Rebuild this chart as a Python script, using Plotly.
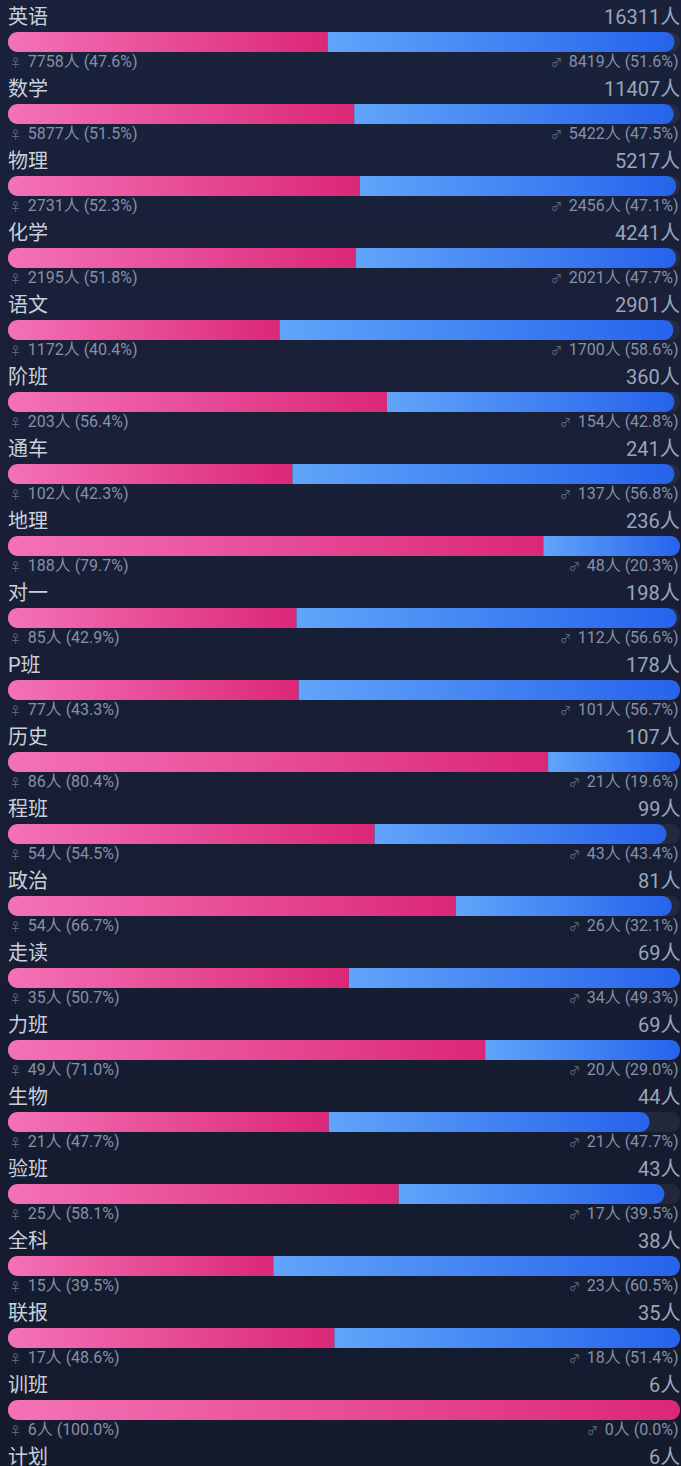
import math
import plotly.graph_objects as go

# ---------------- data ----------------
categories = ['英语', '数学', '物理', '化学', '语文', '阶班', '通车', '地理', '对一', 'P班',
              '历史', '程班', '政治', '走读', '力班', '生物', '验班', '全科', '联报', '训班', '计划']
totals = [16311, 11407, 5217, 4241, 2901, 360, 241, 236, 198, 178,
          107, 99, 81, 69, 69, 44, 43, 38, 35, 6, 6]
female = [7758, 5877, 2731, 2195, 1172, 203, 102, 188, 85, 77,
          86, 54, 54, 35, 49, 21, 25, 15, 17, 6, None]
male = [8419, 5422, 2456, 2021, 1700, 154, 137, 48, 112, 101,
        21, 43, 26, 34, 20, 21, 17, 23, 18, 0, None]

# ---------------- layout constants ----------------
W, H = 681, 1466
ROW_PX = 72
BAR_LEFT, BAR_W = 8, 672
BAR_CY, BAR_HALF = 42, 10
TITLE_CY, SUB_CY = 17, 61.5

PINK = [[0, '#f472b6'], [1, '#db2777']]
BLUE = [[0, '#60a5fa'], [1, '#2563eb']]
TRACK = 'rgba(255,255,255,0.055)'
BG_TOP, BG_BOT = '#151b2d', '#1a213b'

TITLE_COLOR = '#c9d0dc'
TOTAL_COLOR = '#9aa5ba'
SUB_COLOR = '#8591a8'
SYM_COLOR = '#66728a'
FONT = 'Roboto, "Noto Sans CJK SC", sans-serif'
GAP = '\u2006 '

# x in "share of total" units, y in "row" units
x0 = -BAR_LEFT / BAR_W
x1 = (W - BAR_LEFT) / BAR_W
rx = BAR_HALF / BAR_W
ry = BAR_HALF / ROW_PX


def seg(xa, xb, yc, round_left, round_right, n=18):
    xs, ys = [], []
    # left side, bottom -> top
    if round_left:
        for k in range(n + 1):
            t = 1.5 * math.pi - math.pi * k / n
            xs.append(xa + rx + rx * math.cos(t))
            ys.append(yc - ry * math.sin(t))
    else:
        xs += [xa, xa]
        ys += [yc + ry, yc - ry]
    # right side, top -> bottom
    if round_right:
        for k in range(n + 1):
            t = 0.5 * math.pi - math.pi * k / n
            xs.append(xb - rx + rx * math.cos(t))
            ys.append(yc - ry * math.sin(t))
    else:
        xs += [xb, xb]
        ys += [yc - ry, yc + ry]
    xs.append(xs[0])
    ys.append(ys[0])
    return xs, ys


fig = go.Figure()

# background gradient
fig.add_trace(go.Scatter(
    x=[x0, x1, x1, x0, x0], y=[0, 0, H / ROW_PX, H / ROW_PX, 0],
    mode='none', fill='toself',
    fillgradient=dict(type='vertical', colorscale=[[0, BG_TOP], [1, BG_BOT]]),
    hoverinfo='skip', showlegend=False))

annotations = []
for i, cat in enumerate(categories):
    yc = i + BAR_CY / ROW_PX
    tot = totals[i]
    f = female[i]
    m = male[i]

    annotations.append(dict(x=0, y=i + TITLE_CY / ROW_PX, xref='x', yref='y', text=cat,
                            xanchor='left', yanchor='middle', showarrow=False, xshift=-2,
                            font=dict(size=20, color=TITLE_COLOR)))
    annotations.append(dict(x=1, y=i + TITLE_CY / ROW_PX, xref='x', yref='y', text=f'{tot}人',
                            xanchor='right', yanchor='middle', showarrow=False, xshift=2,
                            font=dict(size=20, color=TOTAL_COLOR)))
    if f is None:
        continue

    # track
    tx, ty = seg(0, 1, yc, True, True)
    fig.add_trace(go.Scatter(x=tx, y=ty, mode='none', fill='toself', fillcolor=TRACK,
                             hoverinfo='skip', showlegend=False))
    ff = f / tot
    mf = (f + m) / tot
    if f > 0:
        px_, py_ = seg(0, ff, yc, True, m == 0)
        fig.add_trace(go.Scatter(x=px_, y=py_, mode='none', fill='toself',
                                 fillgradient=dict(type='horizontal', colorscale=PINK),
                                 hoverinfo='skip', showlegend=False))
    if m > 0:
        bx, by = seg(ff, mf, yc, f == 0, True)
        fig.add_trace(go.Scatter(x=bx, y=by, mode='none', fill='toself',
                                 fillgradient=dict(type='horizontal', colorscale=BLUE),
                                 hoverinfo='skip', showlegend=False))

    fp = f'{f / tot * 100:.1f}'
    mp = f'{m / tot * 100:.1f}'
    annotations.append(dict(
        x=0, y=i + SUB_CY / ROW_PX, xref='x', yref='y',
        text=f'<span style="font-size:11px;fill:{SYM_COLOR}">♀</span>{GAP}{f}人 ({fp}%)',
        xanchor='left', yanchor='middle', showarrow=False, xshift=0,
        font=dict(size=16, color=SUB_COLOR)))
    annotations.append(dict(
        x=1, y=i + SUB_CY / ROW_PX, xref='x', yref='y',
        text=f'<span style="font-size:11px;fill:{SYM_COLOR}">♂</span>{GAP}{m}人 ({mp}%)',
        xanchor='right', yanchor='middle', showarrow=False, xshift=1,
        font=dict(size=16, color=SUB_COLOR)))

fig.update_layout(
    width=W, height=H,
    margin=dict(l=0, r=0, t=0, b=0),
    paper_bgcolor='#181e33', plot_bgcolor='rgba(0,0,0,0)',
    font=dict(family=FONT),
    showlegend=False,
    xaxis=dict(range=[x0, x1], visible=False, fixedrange=True),
    yaxis=dict(range=[H / ROW_PX, 0], visible=False, fixedrange=True),
    annotations=annotations,
)

fig.write_html('out.html', config={'displayModeBar': False},
               post_script="document.body.style.margin='0';document.body.style.overflow='hidden';"
                           "document.body.style.background='#181e33';")
